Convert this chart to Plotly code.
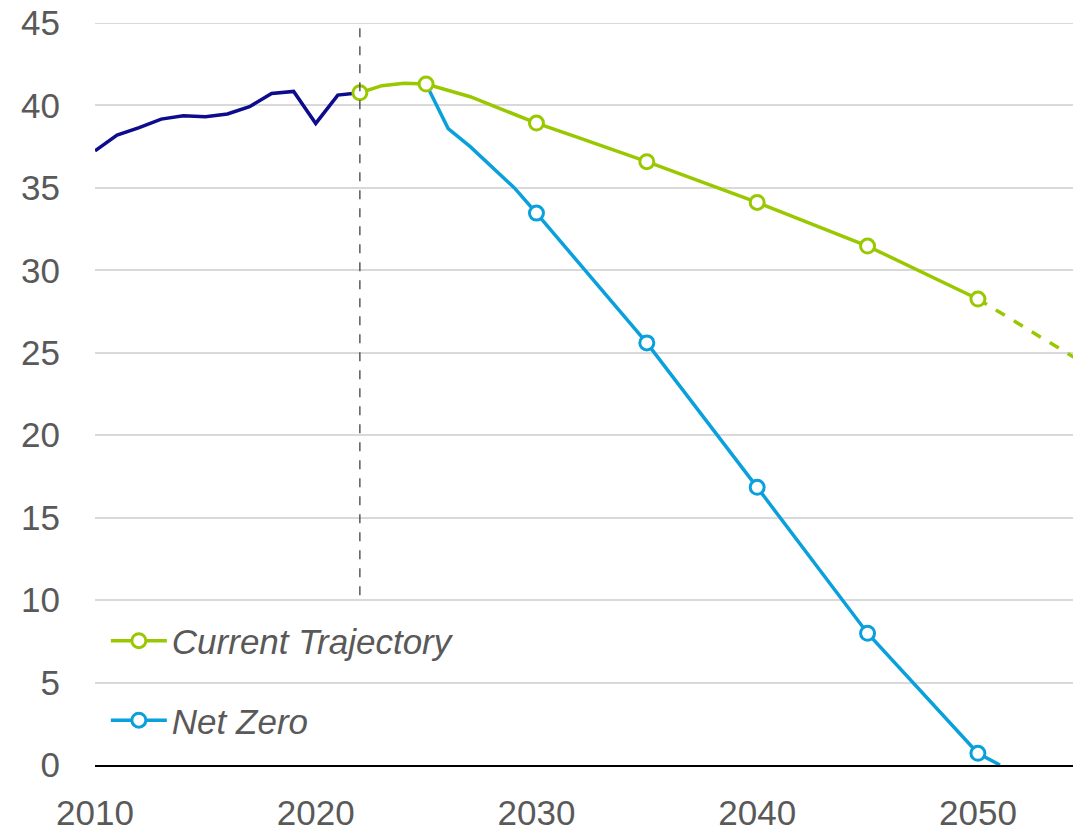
import plotly.graph_objects as go

# ---------------------------
# Données
# ---------------------------
hist_years = list(range(2010, 2023))
hist_vals = [37.25, 38.2, 38.65, 39.17, 39.38, 39.32, 39.48, 39.92, 40.73, 40.85, 38.91, 40.63, 40.77]

ct_years = [2022, 2023, 2024, 2025, 2027, 2030, 2032, 2035, 2040, 2045, 2050]
ct_vals = [40.77, 41.2, 41.34, 41.3, 40.53, 38.93, 38.0, 36.59, 34.12, 31.47, 28.26]
ct_mark_years = [2022, 2025, 2030, 2035, 2040, 2045, 2050]
ct_mark_vals = [40.77, 41.3, 38.93, 36.59, 34.12, 31.47, 28.26]

ct_ext_years = [2050, 2055]
ct_ext_vals = [28.26, 24.2]

nz_years = [2025, 2026, 2027, 2029, 2030, 2032, 2035, 2040, 2045, 2050, 2051]
nz_vals = [41.3, 38.6, 37.5, 35.0, 33.47, 30.3, 25.6, 16.84, 7.99, 0.71, 0.0]
nz_mark_years = [2030, 2035, 2040, 2045, 2050]
nz_mark_vals = [33.47, 25.6, 16.84, 7.99, 0.71]

y_ticks = list(range(0, 50, 5))
x_ticks = [2010, 2020, 2030, 2040, 2050]

NAVY = "#0c0c8c"
GREEN = "#99c800"
BLUE = "#0aa0dc"
GREY_TXT = "#595959"
GRID = "#d9d9d9"
LW = 3.5


def marker_style(col):
    return dict(symbol="circle", size=14, color="white", line=dict(color=col, width=3))


fig = go.Figure()

# ligne de grille du haut (45), masquée par plotly au bord
fig.add_shape(type="line", x0=0, x1=1, xref="paper", y0=y_ticks[-1], y1=y_ticks[-1], yref="y",
              line=dict(color=GRID, width=2), layer="below")

# lignes
fig.add_trace(go.Scatter(x=hist_years, y=hist_vals, mode="lines",
                         line=dict(color=NAVY, width=LW), showlegend=False, hoverinfo="skip"))
fig.add_trace(go.Scatter(x=nz_years, y=nz_vals, mode="lines",
                         line=dict(color=BLUE, width=LW), showlegend=False))
fig.add_trace(go.Scatter(x=ct_years, y=ct_vals, mode="lines",
                         line=dict(color=GREEN, width=LW), showlegend=False))
fig.add_trace(go.Scatter(x=ct_ext_years, y=ct_ext_vals, mode="lines",
                         line=dict(color=GREEN, width=LW, dash="dash"), showlegend=False))

# marqueurs
fig.add_trace(go.Scatter(x=nz_mark_years, y=nz_mark_vals, mode="markers",
                         marker=marker_style(BLUE), showlegend=False))
fig.add_trace(go.Scatter(x=ct_mark_years, y=ct_mark_vals, mode="markers",
                         marker=marker_style(GREEN), showlegend=False))

# entrées de légende seules
fig.add_trace(go.Scatter(x=[None], y=[None], mode="lines+markers", name="Current Trajectory",
                         line=dict(color=GREEN, width=LW), marker=marker_style(GREEN),
                         legendgroup="ct"))
fig.add_trace(go.Scatter(x=[None], y=[None], mode="lines+markers", name="Net Zero",
                         line=dict(color=BLUE, width=LW), marker=marker_style(BLUE),
                         legendgroup="nz"))

# ligne verticale pointillée
fig.add_shape(type="line", x0=2022, x1=2022, y0=10.3, y1=45, xref="x", yref="y",
              line=dict(color="#404040", width=1.3, dash="dash"))

# la page ajoute 8 px de marge (body) : figure réduite d'autant
fig.update_layout(
    width=1073,
    height=824,
    margin=dict(l=87, r=0, t=15, b=67),
    plot_bgcolor="white",
    paper_bgcolor="white",
    font=dict(family="Liberation Sans, Arial, sans-serif", size=35, color=GREY_TXT),
    xaxis=dict(
        range=[2010, 2054.67],
        tickvals=x_ticks,
        showgrid=False,
        zeroline=False,
        showline=True,
        linecolor="black",
        linewidth=2,
        ticks="",
        ticklabelstandoff=16,
        ticklabeloverflow="allow",
        automargin=False,
    ),
    yaxis=dict(
        range=[0, 45],
        tickvals=y_ticks,
        showgrid=True,
        gridcolor=GRID,
        gridwidth=2,
        zeroline=False,
        ticks="",
        ticklabelstandoff=34,
        ticklabeloverflow="allow",
        automargin=False,
    ),
    legend=dict(
        x=0.011,
        y=0.021,
        xanchor="left",
        yanchor="bottom",
        bgcolor="rgba(0,0,0,0)",
        font=dict(size=35, color=GREY_TXT, style="italic"),
        tracegroupgap=31,
        itemwidth=56,
    ),
    showlegend=True,
)

fig.write_html("out.html")
